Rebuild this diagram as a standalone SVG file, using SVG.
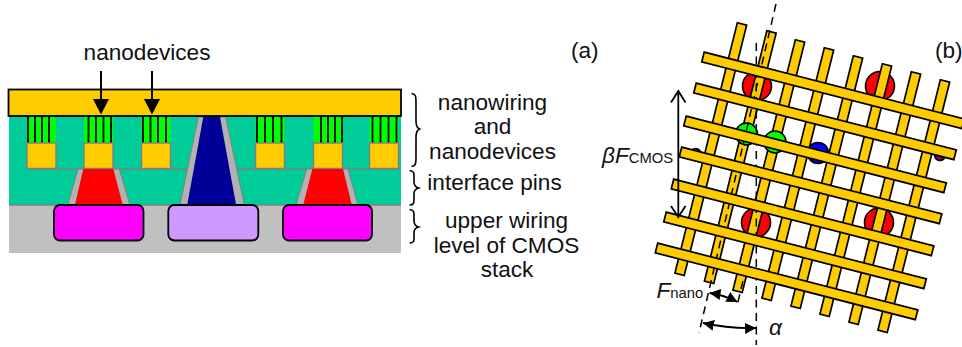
<svg xmlns="http://www.w3.org/2000/svg" width="962" height="347" viewBox="0 0 962 347">
<style>
text{font-family:"Liberation Sans",Arial,sans-serif;font-size:22.6px;fill:#111}
.m{text-anchor:middle}
.i{font-style:italic}
.s{font-size:14.8px}
.w{fill:#FFCC00;stroke:#000;stroke-width:1.7}
.pad{fill:#FFCC00;stroke:#808080;stroke-width:1.5}
.liner{fill:#B2B2B2;stroke:#808080;stroke-width:1}
.box{stroke:#000;stroke-width:1.8}
.bar{stroke:#000;stroke-width:1.8}
.br{fill:none;stroke:#000;stroke-width:1.6}
.c{stroke:#000;stroke-width:1.6}
.d{fill:none;stroke:#000;stroke-width:1.5;stroke-dasharray:8 5.500}
.a{fill:none;stroke:#000;stroke-width:1.8}
</style>
<defs>
<rect id="vw" x="0" y="-4.800" width="258" height="9.600" class="w"/>
<rect id="hw" x="0" y="-5" width="268.500" height="10" class="w"/>
<marker id="h" markerUnits="userSpaceOnUse" markerWidth="12" markerHeight="11" refX="11" refY="5.500" orient="auto-start-reverse"><path d="M0 0L11 5.500L0 11Z"/></marker>
</defs>
<g id="stack-a">
<rect x="9" y="116" width="392" height="89" fill="#00CC99"/>
<rect x="9" y="205" width="392" height="48" fill="#C0C0C0"/>
<path d="M27 169H401M9 205H401" stroke="#808080" stroke-width="1.300" fill="none"/>
<g id="nanodevice-1"><rect x="27" y="117" width="29" height="26" fill="#00FF00"/><path class="bar" d="M28 117V143M35 117V143M42 117V143M49 117V143"/><rect class="pad" x="27" y="143" width="29" height="25.500"/></g>
<g id="nanodevice-2"><rect x="84" y="117" width="29" height="26" fill="#00FF00"/><path class="bar" d="M88.500 117V143M96 117V143M103.500 117V143M111 117V143"/><rect class="pad" x="84" y="143" width="29" height="25.500"/></g>
<g id="nanodevice-3"><rect x="141.500" y="117" width="29" height="26" fill="#00FF00"/><path class="bar" d="M143 117V143M150.500 117V143M158 117V143M166 117V143"/><rect class="pad" x="141.500" y="143" width="29" height="25.500"/></g>
<g id="nanodevice-4"><rect x="255.500" y="117" width="29" height="26" fill="#00FF00"/><path class="bar" d="M257 117V143M265 117V143M273 117V143M281.500 117V143"/><rect class="pad" x="255.500" y="143" width="29" height="25.500"/></g>
<g id="nanodevice-5"><rect x="313.500" y="117" width="29" height="26" fill="#00FF00"/><path class="bar" d="M321 117V143M328 117V143M335 117V143M342 117V143"/><rect class="pad" x="313.500" y="143" width="29" height="25.500"/></g>
<g id="nanodevice-6"><rect x="369.500" y="117" width="29" height="26" fill="#00FF00"/><path class="bar" d="M372.500 117V143M380.500 117V143M388.500 117V143M396.500 117V143"/><rect class="pad" x="369.500" y="143" width="29" height="25.500"/></g>
<g id="pin-left"><path class="liner" d="M78 169L67.700 205H130L119.300 169Z"/><path d="M83.300 169L75 204.500H122.700L113.300 169Z" fill="#FF0000"/></g>
<g id="pin-center"><path class="liner" d="M198.300 117L180 205H244.300L225.700 117Z"/><path d="M203.300 117L187.300 204.500H236L220 117Z" fill="#000099"/></g>
<g id="pin-right"><path class="liner" d="M306.700 169L296 205H358L348 169Z"/><path d="M312.300 169L303.300 204.500H351.700L343 169Z" fill="#FF0000"/></g>
<rect id="pad-left" class="box" x="54" y="205" width="89.500" height="35.500" rx="6" fill="#FF00FF"/>
<rect id="pad-center" class="box" x="168.300" y="205" width="90" height="35.500" rx="6" fill="#CC99FF"/>
<rect id="pad-right" class="box" x="283" y="205" width="89" height="35.500" rx="6" fill="#FF00FF"/>
<rect id="nanowire-a" class="box" fill="#FFCC00" x="8.500" y="89.500" width="392.500" height="26.500"/>
</g>
<g id="labels-a">
<text class="m" x="147" y="60">nanodevices</text>
<text class="m" x="492.500" y="110">nanowiring</text>
<text class="m" x="492.500" y="134">and</text>
<text class="m" x="492.500" y="159">nanodevices</text>
<text class="m" x="494.500" y="190">interface pins</text>
<text class="m" x="506.500" y="228">upper wiring</text>
<text class="m" x="506.500" y="253">level of CMOS</text>
<text class="m" x="507" y="277">stack</text>
<text x="571" y="58">(a)</text>
<text x="935" y="58">(b)</text>
</g>
<g id="braces">
<path class="br" d="M411.500 93.500C416 94 416 97 416 102V121C416 126 417 128 419.500 129C417 130 416 132 416 137V157C416 163 416 166 411.500 166.500"/>
<path class="br" d="M409.500 170.500C414 171 414 173 414 176V182C414 185 415 187 418.500 188C415 189 414 191 414 194V199C414 203 414 205 409.500 205"/>
<path class="br" d="M409.500 209.500C414 210 414 212 414 215V221C414 224 415 226 418.500 227C415 228 414 230 414 233V238C414 241 414 243 409.500 243"/>
</g>
<g id="connectors-a">
<path d="M101 71V100" stroke="#000" stroke-width="2"/><path d="M93 99H109L101 114.500Z"/>
<path d="M152 71V100" stroke="#000" stroke-width="2"/><path d="M144 99H160L152 114.500Z"/>
</g>
<g id="sites-b">
<circle class="c" cx="757" cy="86" r="14.500" fill="#FF0000"/>
<circle class="c" cx="880" cy="86" r="14.500" fill="#FF0000"/>
<circle class="c" cx="756" cy="222.500" r="14.500" fill="#FF0000"/>
<circle class="c" cx="879" cy="222.500" r="14.500" fill="#FF0000"/>
<circle class="c" cx="818" cy="153" r="10.500" fill="#0000FF"/>
<circle class="c" cx="695.500" cy="154" r="5.500" fill="#800080"/>
<circle class="c" cx="940" cy="155" r="5.500" fill="#800080"/>
</g>
<g id="wires-vertical">
<use href="#vw" transform="translate(742 24) rotate(104)"/>
<use href="#vw" transform="translate(771.500 32) rotate(104)"/>
<use href="#vw" transform="translate(800 41) rotate(104)"/>
<use href="#vw" transform="translate(829 49) rotate(104)"/>
<use href="#vw" transform="translate(858 57) rotate(104)"/>
<use href="#vw" transform="translate(887 65) rotate(104)"/>
<use href="#vw" transform="translate(916 73) rotate(104)"/>
<use href="#vw" transform="translate(945 81) rotate(104)"/>
</g>
<g id="sites-green">
<circle class="c" cx="746.500" cy="134" r="11" fill="#00FF00"/>
<circle class="c" cx="775" cy="142" r="11" fill="#00FF00"/>
</g>
<g id="dashes">
<path class="d" d="M776 4L699 333"/>
<path class="d" d="M756.300 43V345"/>
<path class="d" d="M746 268L737.500 304"/>
</g>
<g id="wires-horizontal">
<use href="#hw" transform="translate(703 57) rotate(14.400)"/>
<use href="#hw" transform="translate(695 88) rotate(14.400)"/>
<use href="#hw" transform="translate(685 121) rotate(14.400)"/>
<use href="#hw" transform="translate(680.500 152) rotate(14.400)"/>
<use href="#hw" transform="translate(672.500 184) rotate(14.400)"/>
<use href="#hw" transform="translate(665 217) rotate(14.400)"/>
<use href="#hw" transform="translate(656.500 248) rotate(14.400)"/>
</g>
<g id="connectors-b">
<path class="a" d="M678.300 91V217M671 102.500L678.300 91L685.500 102.500M671 206L678.300 217L685.500 206"/>
<path class="a" d="M709.500 293Q724 295 737.500 302" marker-start="url(#h)" marker-end="url(#h)"/>
<path class="a" d="M703 323Q730 329 756 328" marker-start="url(#h)" marker-end="url(#h)"/>
</g>
<g id="labels-b">
<text x="602" y="163"><tspan class="i">βF</tspan><tspan class="s">CMOS</tspan></text>
<text x="656.500" y="298"><tspan class="i">F</tspan><tspan class="s">nano</tspan></text>
<text class="i" x="769" y="335">α</text>
</g>
</svg>
